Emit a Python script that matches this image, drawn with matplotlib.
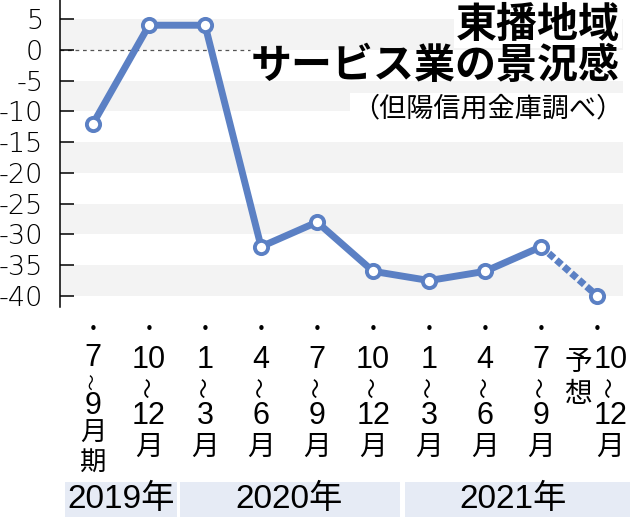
import matplotlib
matplotlib.use("Agg")
import matplotlib.pyplot as plt
from matplotlib.patches import Rectangle

# --- data -------------------------------------------------------------
values = [-12, 4, 4, -32, -28, -36, -37.5, -36, -32, -40]
start_month = ["7", "10", "1", "4", "7", "10", "1", "4", "7", "10"]
end_month = ["9", "12", "3", "6", "9", "12", "3", "6", "9", "12"]
years = ["2019年", "2020年", "2021年"]
year_span = [(0, 1), (2, 5), (6, 9)]      # quarter indices in each year
forecast_from = 8                            # last segment is a forecast
yticks = list(range(5, -45, -5))

title1 = "東播地域"
title2 = "サービス業の景況感"
source = "（但陽信用金庫調べ）"

BLUE = "#5b80c4"
BAND = "#f3f3f3"
YEAR_BG = "#e6ebf5"
W, H = 630, 517

CJK = "Noto Sans CJK JP"
LAT = ["Liberation Sans", CJK]
plt.rcParams["font.family"] = ["DejaVu Sans", CJK]

fig = plt.figure(figsize=(W / 100, H / 100), dpi=100)
ax = fig.add_axes([60 / W, 210 / H, 563 / W, 307 / H])

x = list(range(len(values)))
ax.set_xlim(-0.589, 9.46)
ax.set_ylim(-41.8, 8.1)

# alternating grey bands
for lo in range(-40, 5, 10):
    ax.axhspan(lo, lo + 5, color=BAND, lw=0, zorder=0)

ax.hlines(0, -0.589, 2.8, colors="#555555", lw=0.9,
          linestyles=(0, (3, 3)), zorder=1)

ax.plot(x[:forecast_from + 1], values[:forecast_from + 1], color=BLUE,
        lw=5, solid_capstyle="round", zorder=3)
ax.plot(x[forecast_from:], values[forecast_from:], color=BLUE, lw=5,
        linestyle=(0, (1, 0.45)), dash_capstyle="butt", zorder=3)
ax.plot(x, values, ls="none", marker="o", ms=9.5, mfc="white", mec=BLUE,
        mew=2.8, zorder=4)

for s in ["top", "right", "bottom"]:
    ax.spines[s].set_visible(False)
ax.spines["left"].set_linewidth(1.1)
ax.set_xticks([])
ax.set_yticks(yticks)
ax.set_yticklabels([str(v) for v in yticks], fontsize=19.5,
                   family="DejaVu Sans", weight="light")
ax.tick_params(axis="y", direction="in", length=10, width=1.1, pad=12)

# title block
box = dict(fc="white", ec="none", pad=1.5)
fig.text(620 / W, 1 - 25 / H, title1, family=CJK, weight="bold",
         fontsize=29.5, ha="right", va="center", zorder=6, bbox=box)
fig.text(620 / W, 1 - 66 / H, title2, family=CJK, weight="bold",
         fontsize=29.5, ha="right", va="center", zorder=6)
fig.text(623 / W, 1 - 109 / H, source, family=CJK, fontsize=19.5,
         ha="right", va="center", zorder=6, bbox=box)


def put(i, ypix, s, dx=0, **kw):
    ax.annotate(s, xy=(i, H - ypix), xycoords=("data", "figure pixels"),
                xytext=(dx * 0.72, 0), textcoords="offset points",
                ha="center", va="center", annotation_clip=False, **kw)


# vertical quarter labels under the axis
lab = dict(family=LAT, fontsize=22)
wave = dict(rotation=90, fontsize=15, family=CJK)
for i in x:
    put(i, 329, "•", fontsize=11, family="DejaVu Sans")
    dx = 13 if i == len(x) - 1 else 0
    if i == 0:
        put(i, 358, start_month[i], **lab)
        put(i, 382, "〜", rotation=90, fontsize=12, family=CJK)
        put(i, 406, end_month[i], **lab)
        put(i, 433, "月", family=CJK, fontsize=19)
        put(i, 462, "期", family=CJK, fontsize=19)
    else:
        put(i, 360, start_month[i], dx=dx, **lab)
        put(i, 388, "〜", dx=dx, **wave)
        put(i, 416, end_month[i], dx=dx, **lab)
        put(i, 447, "月", dx=dx, family=CJK, fontsize=20)

put(forecast_from + 1, 362, "予", dx=-19, family=CJK, fontsize=20)
put(forecast_from + 1, 394, "想", dx=-19, family=CJK, fontsize=20)

# year bands
edges = [(65, 177), (180, 400), (405, 630)]
for a, b in edges:
    fig.patches.append(Rectangle((a / W, 0), (b - a) / W, 35 / H,
                                 transform=fig.transFigure, fc=YEAR_BG,
                                 ec="none", zorder=-1))
for (i0, i1), yr in zip(year_span, years):
    put((i0 + i1) / 2, 499, yr, family=LAT, fontsize=24)

fig.savefig("out.png", dpi=100)
